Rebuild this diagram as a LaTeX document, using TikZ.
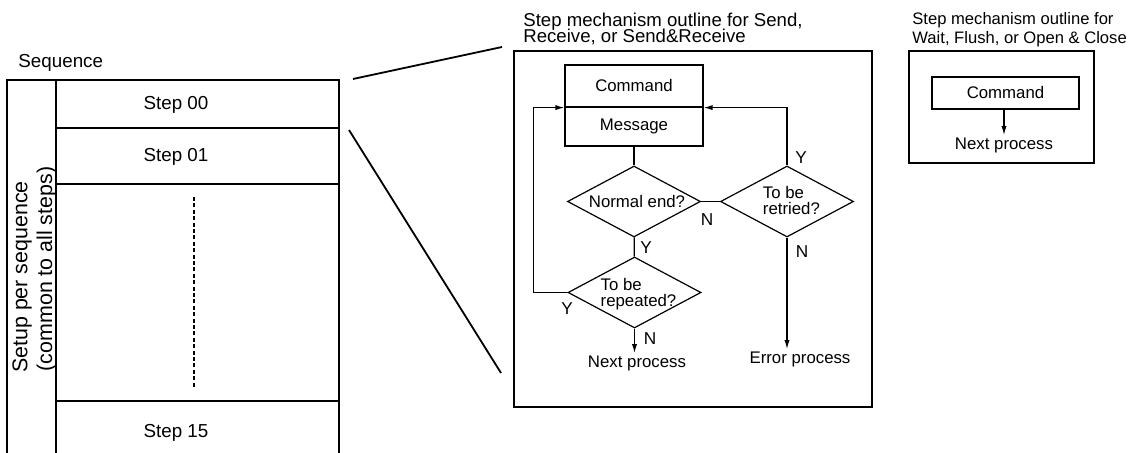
\documentclass[tikz,border=0pt]{standalone}
\usepackage{fontspec}
\setmainfont{Liberation Sans}
\usetikzlibrary{shapes.geometric, arrows.meta, positioning, calc}

\newcommand{\tighttitle}{\fontsize{9.3}{8.4}\selectfont\lineskiplimit=-10pt\relax}

\begin{document}
\begin{tikzpicture}[
        x=0.5pt, y=-0.5pt,
        table/.style={line width=0.9pt, draw=black},
        zoomline/.style={line width=0.9pt, draw=black},
        dotline/.style={line width=1pt, dash pattern=on 2pt off 1.2pt},
        frame/.style={rectangle, draw=black, line width=0.6pt, inner sep=0pt},
        process/.style={rectangle, draw=black, line width=0.6pt, minimum width=69pt, inner sep=0pt, font=\fontsize{8.4}{9}\selectfont},
        decision/.style={diamond, draw=black, line width=0.6pt, minimum width=66.5pt, minimum height=35.5pt, inner sep=0pt},
        dtext/.style={align=left, inner sep=0pt, font=\fontsize{8.4}{8}\selectfont},
        steplabel/.style={font=\fontsize{9.4}{10}\selectfont, inner sep=1pt},
        sidelabel/.style={rotate=90, font=\fontsize{10.7}{11}\selectfont, inner sep=0pt},
        title/.style={align=left, anchor=west, inner sep=0pt},
        plain/.style={font=\fontsize{8.4}{9}\selectfont, inner sep=1pt},
        yn/.style={font=\fontsize{8.6}{9}\selectfont, inner sep=0pt},
        arrow/.style={-{Latex[length=4.5pt, width=2.6pt]}, line width=0.6pt, draw=black},
        line/.style={line width=0.6pt, draw=black}
    ]
        \useasboundingbox (0,0) rectangle (1129,453);

        % sequence table
        \node[steplabel, anchor=west] (seq) at (16,63) {Sequence};
        \draw[table] (7,453) -- (7,80) -- (339,80) -- (339,453);
        \draw[table] (56,80) -- (56,453);
        \draw[table] (56,128) -- (339,128);
        \draw[table] (56,184) -- (339,184);
        \draw[table] (56,401) -- (339,401);
        \node[steplabel] (step00) at (176,105) {Step 00};
        \node[steplabel] (step01) at (176,157) {Step 01};
        \node[steplabel] (step15) at (176,433) {Step 15};
        \draw[dotline] (194,197) -- (194,388);
        \node[sidelabel] (setup) at (22,277) {Setup per sequence};
        \node[sidelabel] (common) at (46.5,269) {(common to all steps)};

        % zoom lines
        \coordinate (za) at (353,79);
        \coordinate (zb) at (502,47);
        \coordinate (zc) at (349,130);
        \coordinate (zd) at (501,373);
        \draw[zoomline] (za) -- (zb);
        \draw[zoomline] (zc) -- (zd);

        % flowchart for Send / Receive
        \node[title, font=\tighttitle] (title1) at (523,29) {Step mechanism outline for Send,\\Receive, or Send\&Receive};
        \node[frame, minimum width=179pt, minimum height=178pt] (flowbox) at (693,229) {};
        \node[process, minimum height=21pt] (cmd) at (634,86) {Command};
        \node[process, minimum height=19.5pt] (msg) at (634,126.5) {Message};
        \node[decision, label={[dtext, xshift=1.5pt]center:Normal end?}] (normal) at (634,201.5) {};
        \node[decision, label={[dtext, xshift=2.2pt, yshift=0.5pt]center:To be\\retried?}] (retry) at (787,201.5) {};
        \node[decision, label={[dtext, xshift=2pt, yshift=-0.8pt]center:To be\\repeated?}] (repeat) at (634.5,292.5) {};
        \node[plain] (next) at (637,363) {Next process};
        \node[plain] (error) at (800,359) {Error process};

        \draw[line] (msg) -- (normal);
        \draw[line] (normal) -- (retry);
        \draw[line] (normal) -- (repeat);
        \draw[arrow] (repeat.west) -- ++(-34,0) |- (cmd.south west);
        \draw[arrow] (retry.north) |- (cmd.south east);
        \draw[arrow] (repeat.south) -- (repeat.south |- next.north);
        \draw[arrow] (retry.south) -- (retry.south |- error.north);

        \node[yn] (n1) at (707,220) {N};
        \node[yn] (y1) at (801,158) {Y};
        \node[yn] (n2) at (802,252) {N};
        \node[yn] (y2) at (646,248) {Y};
        \node[yn] (y3) at (567,309) {Y};
        \node[yn] (n3) at (650,339) {N};

        % outline for Wait / Flush / Open & Close
        \node[title, font=\fontsize{8.3}{9.5}\selectfont] (title2) at (912,29.5) {Step mechanism outline for\\Wait, Flush, or Open \& Close};
        \node[frame, minimum width=92.5pt, minimum height=56pt] (smallbox) at (1001.5,107) {};
        \node[process, minimum width=73.5pt, minimum height=16pt] (cmd2) at (1005.5,93) {Command};
        \node[plain] (next2) at (1004,145) {Next process};
        \draw[arrow] (cmd2.south -| next2.north) -- (next2.north);
    \end{tikzpicture}
\end{document}
